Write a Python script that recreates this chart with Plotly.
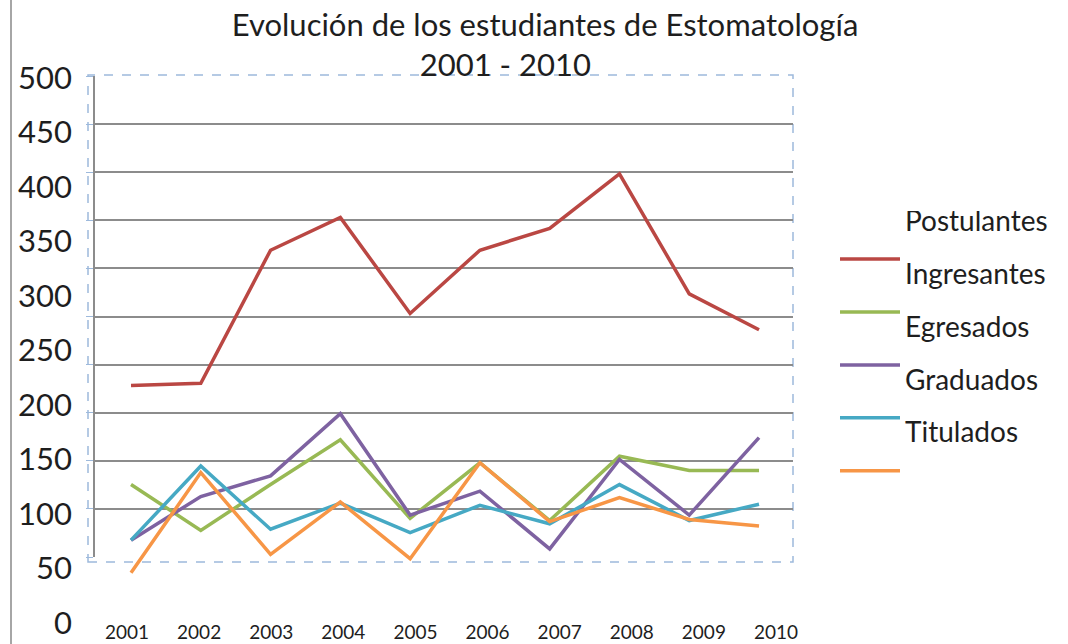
import plotly.graph_objects as go

# ---------------- data ----------------
years = ["2001", "2002", "2003", "2004", "2005", "2006", "2007", "2008", "2009", "2010"]
postulantes = [218, 220, 342, 372, 284, 342, 362, 412, 302, 269]
ingresantes = [127, 85, 127, 168, 96, 147, 94, 153, 140, 140]
egresados = [76, 116, 135, 192, 99, 121, 68, 150, 99, 170]
graduados = [76, 144, 86, 110, 83, 108, 91, 127, 94, 109]
titulados = [46, 138, 63, 111, 59, 147, 93, 115, 95, 89]
series_names = ["Postulantes", "Ingresantes", "Egresados", "Graduados", "Titulados"]
series_values = [postulantes, ingresantes, egresados, graduados, titulados]
series_colors = ["#BA4743", "#98B954", "#7E62A1", "#46A9C4", "#F79646"]
y_ticks = [0, 50, 100, 150, 200, 250, 300, 350, 400, 450, 500]
title_line1 = "Evolución de los estudiantes de Estomatología"
title_line2 = "2001 - 2010"

# ---------------- layout helpers ----------------
W, H = 1068, 644
FONT = "Lato"
TXT = "#1e1e1e"


def px_x(x):
    return x / W


def px_y(y):
    return (H - y) / H


fig = go.Figure()

# gridline subplot (x / y)
fig.add_trace(go.Scatter(x=[], y=[], xaxis="x", yaxis="y", showlegend=False, hoverinfo="skip"))

# data series (x / y2)
for name, vals, col in zip(series_names, series_values, series_colors):
    fig.add_trace(go.Scatter(
        x=years, y=vals, mode="lines", xaxis="x", yaxis="y2",
        line=dict(color=col, width=3.5),
        name="<span style='font-size:28px'>" + name + "</span><br>&nbsp;<br>&nbsp;",
        hovertemplate="%{x}: %{y}<extra>" + name + "</extra>",
    ))

# label-only x axis
fig.add_trace(go.Scatter(x=[], y=[], xaxis="x2", yaxis="y2", showlegend=False, hoverinfo="skip"))

fig.update_layout(
    template="none",
    width=W, height=H, autosize=False,
    margin=dict(l=0, r=0, t=0, b=0, pad=0, autoexpand=False),
    paper_bgcolor="white", plot_bgcolor="rgba(0,0,0,0)",
    font=dict(family=FONT, color=TXT),
    title=dict(
        text=title_line1 + "<br>" + title_line2 + "&nbsp;" * 10,
        x=px_x(545), xanchor="center", xref="paper",
        y=1 - 36 / H, yanchor="top", yref="container",
        font=dict(family=FONT, size=31, color=TXT),
    ),
    xaxis=dict(
        type="category", domain=[px_x(95), px_x(793)], automargin=False,
        range=[-0.516, 9.487], showticklabels=False, showgrid=False,
        zeroline=False, showline=False, ticks="", anchor="y",
    ),
    xaxis2=dict(
        type="linear", overlaying="x", anchor="free", position=px_y(619), automargin=False,
        range=[-0.444, 9.236], tickvals=list(range(len(years))), ticktext=years,
        showgrid=False, zeroline=False, showline=False, ticks="",
        tickfont=dict(family=FONT, size=19, color=TXT),
    ),
    yaxis=dict(
        domain=[px_y(557), px_y(76)], range=[0, 500], tick0=0, dtick=50, automargin=False,
        showgrid=True, gridcolor="#8c8c8c", gridwidth=2,
        showticklabels=False, ticks="outside", ticklen=7, tickcolor="#9db9dc", tickwidth=1,
        showline=True, linecolor="#8c8c8c", linewidth=2, zeroline=False, anchor="x",
    ),
    yaxis2=dict(
        domain=[px_y(623), px_y(78)], range=[0, 500], tickvals=y_ticks, automargin=False,
        showgrid=False, zeroline=False, showline=False, ticks="", anchor="x",
        tickfont=dict(family=FONT, size=31, color=TXT), ticklabelstandoff=22,
    ),
    legend=dict(
        x=px_x(835), y=px_y(211), xanchor="left", yanchor="top",
        font=dict(family=FONT, size=12.8, color=TXT), valign="bottom",
        bgcolor="rgba(0,0,0,0)", borderwidth=0, itemwidth=60, traceorder="normal",
    ),
    shapes=[
        dict(type="rect", xref="paper", yref="paper",
             x0=px_x(88), x1=px_x(793), y0=px_y(562), y1=px_y(75),
             line=dict(color="#9db9dc", width=1.5, dash="dash"), layer="below"),
        dict(type="line", xref="paper", yref="paper",
             x0=px_x(11), x1=px_x(11), y0=0, y1=1,
             line=dict(color="#a6a6a6", width=2)),
    ],
)

fig.write_html(
    "out.html",
    config={"displayModeBar": False},
    post_script="document.body.style.margin='0px';document.body.style.padding='0px';",
)
